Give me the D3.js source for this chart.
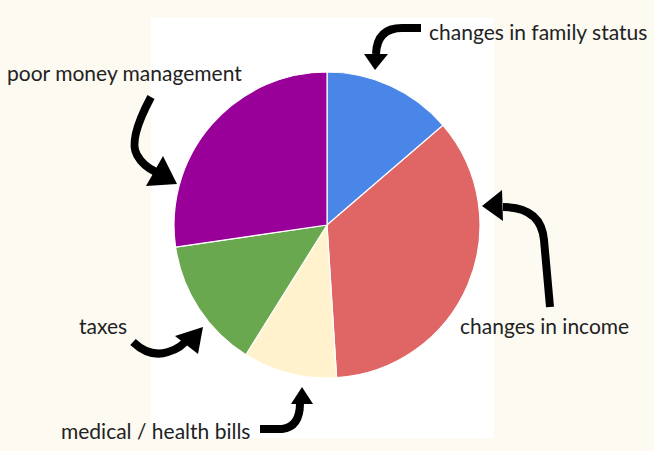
<!DOCTYPE html>
<html>
<head>
<meta charset="utf-8">
<script src="https://cdn.jsdelivr.net/npm/d3@7"></script>
<style>
  html, body { margin: 0; padding: 0; background: #fdfaf2; }
  svg { display: block; }
  text { font-family: Lato, "Open Sans", sans-serif; fill: #222; }
</style>
</head>
<body>
<svg id="chart" width="654" height="451"></svg>
<script>
// Data
const categories = ["changes in family status", "changes in income", "medical / health bills", "taxes", "poor money management"];
const values = [13.7, 35.3, 9.9, 13.8, 27.3];
const colors = ["#4a86e8", "#e06666", "#fff2cc", "#6aa84f", "#990099"];

const svg = d3.select("#chart");

// white panel behind the pie
svg.append("rect").attr("x", 151).attr("y", 18).attr("width", 343).attr("height", 420).attr("fill", "#ffffff");

const cx = 327, cy = 225, R = 153;
const pie = d3.pie().sort(null).value(d => d.v);
const arc = d3.arc().innerRadius(0).outerRadius(R);
const data = categories.map((c, i) => ({ c, v: values[i], col: colors[i] }));

const g = svg.append("g").attr("transform", `translate(${cx},${cy})`);
g.selectAll("path").data(pie(data)).join("path")
  .attr("d", arc)
  .attr("fill", d => d.data.col)
  .attr("stroke", "#ffffff")
  .attr("stroke-width", 1.2);

// labels
const labels = [
  { t: categories[0], x: 429, y: 40 },
  { t: categories[4], x: 7, y: 81 },
  { t: categories[1], x: 460, y: 334 },
  { t: categories[3], x: 79, y: 334 },
  { t: categories[2], x: 61, y: 439 }
];
svg.selectAll("text.lbl").data(labels).join("text")
  .attr("class", "lbl")
  .attr("x", d => d.x).attr("y", d => d.y)
  .attr("font-size", 21)
  .text(d => d.t);

// annotation arrows
const arrows = [
  { shaft: "M421,28 L402,28 Q377,28 376,54", head: "M364,54 L388,54 L375,70 Z" },
  { shaft: "M151,97 Q128,140 137,155 Q143,166 156,172", head: "M146,186 L163,156 L177,184 Z" },
  { shaft: "M133,342 Q150,358 168,352 Q182,348 188,338", head: "M175,336 L203,327 L198,354 Z" },
  { shaft: "M260,429 L282,429 Q300,427 300,403", head: "M291,404 L313,404 L302,387 Z" },
  { shaft: "M550,307 L544,240 Q541,207 503,207", head: "M482,206 L502,190 L503,221 Z" }
];
const ag = svg.append("g");
arrows.forEach(a => {
  ag.append("path").attr("d", a.shaft).attr("fill", "none").attr("stroke", "#000").attr("stroke-width", 8);
  ag.append("path").attr("d", a.head).attr("fill", "#000");
});
</script>
</body>
</html>
